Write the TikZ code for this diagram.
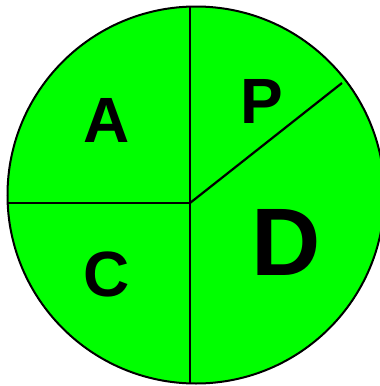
\documentclass[tikz,border=0pt]{standalone}
\usepackage{fontspec}
\setmainfont{Liberation Sans}
\usetikzlibrary{positioning, calc}

\begin{document}
\begin{tikzpicture}[
  x=1pt, y=-1pt,
  disc/.style={draw=black, line width=2pt, fill=green},
  divider/.style={draw=black, line width=2.2pt},
  sector/.style={font=\fontsize{64}{64}\selectfont\bfseries, inner sep=0pt},
  bigsector/.style={font=\fontsize{96}{96}\selectfont\bfseries, inner sep=0pt},
]
\useasboundingbox (0,0) rectangle (380,386);
\draw[disc] (196,195) circle[radius=188.5];

\coordinate (hub)   at (190,203);
\coordinate (top)   at (190,6.6);
\coordinate (bot)   at (190,383.4);
\coordinate (left)  at (7.7,203);
\coordinate (rim)   at (342,83);

\draw[divider] (top) -- (hub);
\draw[divider] (hub) -- (bot);
\draw[divider] (left) -- (hub);
\draw[divider] (hub) -- (rim);

\node[sector] (a) at (107,120) {A};
\node[sector] (p) at (262,101) {P};
\node[sector] (c) at (107,274) {C};
\node[bigsector] (d) at (286,242) {D};
\end{tikzpicture}
\end{document}
